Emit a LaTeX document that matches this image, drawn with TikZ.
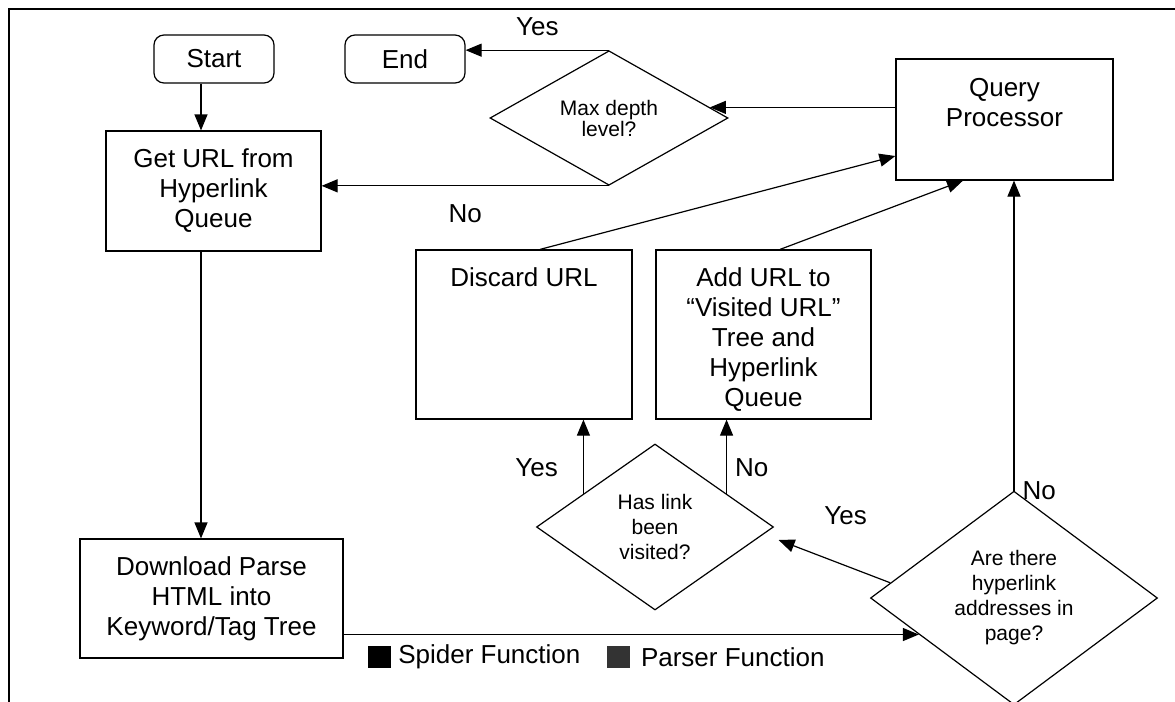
\documentclass[tikz,border=0pt]{standalone}
\usepackage{fontspec}
\setmainfont{Liberation Sans}
\usetikzlibrary{shapes.geometric,arrows.meta,positioning}

\tikzset{
  boite/.style={draw, line width=0.6pt, inner sep=0pt, align=center, font=\fontsize{13pt}{15pt}\selectfont},
  arrondi/.style={boite, rounded corners=5pt},
  losange/.style={draw, diamond, line width=0.6pt, inner sep=0pt, align=center, font=\fontsize{10.5pt}{12.5pt}\selectfont},
  texte/.style={inner sep=0pt, align=center, font=\fontsize{13pt}{15pt}\selectfont},
  fleche/.style={line width=0.6pt, -{Triangle[length=8pt,width=6.5pt]}},
  carre/.style={minimum width=11.5pt, minimum height=11pt, inner sep=0pt},
}

\begin{document}
\begin{tikzpicture}[x=0.5pt, y=-0.5pt]
\useasboundingbox (0,0) rectangle (1175,702);
\draw[line width=0.9pt] (9,702) -- (9,9) -- (1175,9);

\node[arrondi, minimum width=60pt, minimum height=24pt] (start) at (214,59) {Start};
\node[arrondi, minimum width=60pt, minimum height=24pt] (fin) at (405,59) {End};
\node[boite, minimum width=107.5pt, minimum height=60pt] (geturl) at (213.5,191) {Get URL from\\Hyperlink\\Queue};
\node[boite, minimum width=131.5pt, minimum height=59.5pt] (download) at (211.5,598.5) {Download Parse\\HTML into\\Keyword/Tag Tree};

\node[boite, minimum width=108.5pt, minimum height=60.5pt] (query) at (1004.5,119.5) {};
\node[texte, below=10pt of query.north] (querytxt) {Query\\Processor};
\node[boite, minimum width=108pt, minimum height=84.5pt] (discard) at (524,334.5) {};
\node[texte, below=9pt of discard.north] (discardtxt) {Discard URL};
\node[boite, minimum width=107.5pt, minimum height=84.5pt] (addurl) at (763.5,334.5) {};
\node[texte, below=9pt of addurl.north] (addurltxt) {Add URL to\\``Visited URL''\\Tree and\\Hyperlink\\Queue};

\node[losange, font=\fontsize{10.5pt}{10.5pt}\selectfont, minimum width=119pt, minimum height=59.5pt] (maxdepth) at (609,118) {Max depth\\level?};
\node[losange, minimum width=118.5pt, minimum height=83pt] (haslink) at (655,527) {Has link\\been\\visited?};
\node[losange, minimum width=143.5pt, minimum height=106pt] (arethere) at (1014,598) {Are there\\hyperlink\\addresses in\\page?};

\draw[fleche] ([xshift=-6.5pt]start.south) -- ([xshift=-6.25pt]geturl.north);
\draw[fleche] ([xshift=-6.25pt]geturl.south) -- ([xshift=-5.25pt]download.north);
\draw[fleche] (maxdepth.north) -- (maxdepth.north -| fin.east) node[midway, above=7pt, texte] {Yes};
\draw[fleche] (maxdepth.south) -- (maxdepth.south -| geturl.east) node[midway, below=9pt, texte] {No};
\draw[fleche] (maxdepth.6 -| query.west) -- (maxdepth.6);
\draw[fleche] ([xshift=8pt]discard.north) -- ([yshift=-18.25pt]query.west);
\draw[fleche] ([xshift=8.25pt]addurl.north) -- ([xshift=-20.75pt]query.south);
\draw[fleche] (arethere.north) -- (arethere.north |- query.south) node[pos=0, right=4pt, texte] {No};
\draw[fleche] (haslink.155) -- (haslink.155 |- discard.south) node[pos=0.35, left=12.5pt, texte] {Yes};
\draw[fleche] (haslink.25) -- (haslink.25 |- addurl.south) node[pos=0.35, right=4pt, texte] {No};
\draw[fleche] (arethere.173) -- ([shift={(2.25pt,-6.5pt)}]haslink.east) node[pos=0.4, above=20pt, texte] {Yes};
\draw[fleche] (arethere.201 -| download.east) -- (arethere.201);

\node[carre, fill=black] (spiderkey) at (379,657) {};
\node[texte, right=3.5pt of spiderkey] (spidertxt) {Spider Function};
\node[carre, fill=black!80, right=13pt of spidertxt] (parserkey) {};
\node[texte, right=5pt of parserkey] (parsertxt) {Parser Function};
\end{tikzpicture}
\end{document}
